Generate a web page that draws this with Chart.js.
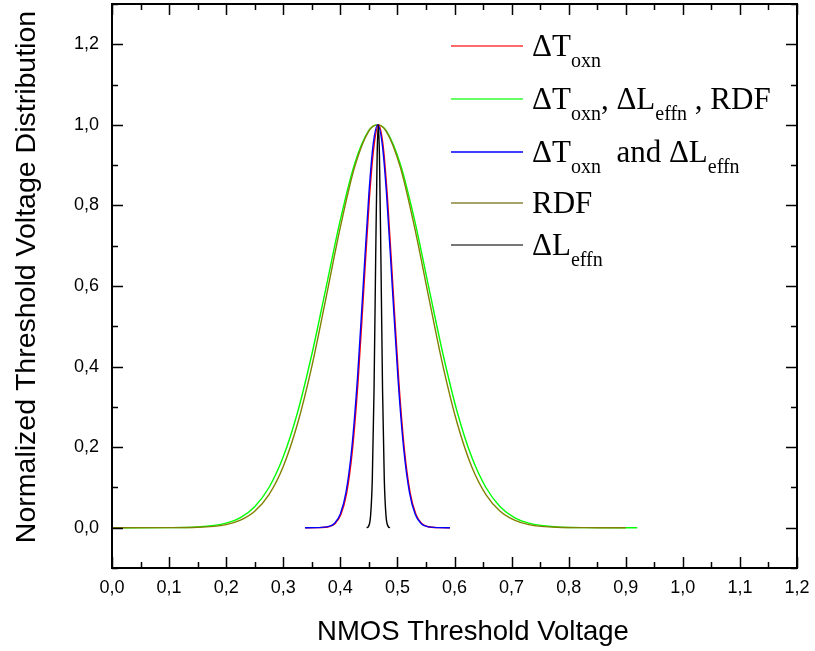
<!DOCTYPE html>
<html>
<head>
<meta charset="utf-8">
<script src="https://cdn.jsdelivr.net/npm/chart.js@4/dist/chart.umd.min.js"></script>
<style>
  html, body { margin: 0; padding: 0; background: #fff; }
  #wrap { position: relative; width: 815px; height: 651px; }
  canvas { position: absolute; left: 0; top: 0; }
  .lg { position: absolute; left: 451px; font-family: "Liberation Serif", "Times New Roman", serif; font-size: 31px; color: #000; white-space: nowrap; line-height: 1; }
  .lg .sw { position: absolute; left: 0; width: 72px; height: 2px; }
  .lg .tx { position: absolute; left: 81px; top: -16px; }
  .lg sub { font-size: 20px; vertical-align: -11px; line-height: 0; }
</style>
</head>
<body>
<div id="wrap">
  <canvas id="c" width="815" height="651"></canvas>
  <div id="legend"></div>
</div>
<script>
// ---- data ----
const xTickValues = [0, 0.1, 0.2, 0.3, 0.4, 0.5, 0.6, 0.7, 0.8, 0.9, 1.0, 1.1, 1.2];
const xTickLabels = ['0,0','0,1','0,2','0,3','0,4','0,5','0,6','0,7','0,8','0,9','1,0','1,1','1,2'];
const xMinorTicks = [0.05, 0.15, 0.25, 0.35, 0.45, 0.55, 0.65, 0.75, 0.85, 0.95, 1.05, 1.15];
const yTickValues = [0, 0.2, 0.4, 0.6, 0.8, 1.0, 1.2];
const yTickLabels = ['0,0','0,2','0,4','0,6','0,8','1,0','1,2'];
const yMinorTicks = [-0.1, 0.1, 0.3, 0.5, 0.7, 0.9, 1.1, 1.3];

const xTitle = 'NMOS Threshold Voltage';
const yTitle = 'Normalized Threshold Voltage Distribution';
const seriesNames = ['ΔToxn', 'ΔToxn, ΔLeffn , RDF', 'ΔToxn and ΔLeffn', 'RDF', 'ΔLeffn'];

// all three sources (green)
const allX = [0.02, 0.10, 0.15, 0.20, 0.225, 0.25, 0.275, 0.30, 0.325, 0.35, 0.375, 0.40, 0.425, 0.45, 0.465, 0.48, 0.505, 0.53, 0.555, 0.58, 0.605, 0.63, 0.655, 0.68, 0.705, 0.73, 0.78, 0.83, 0.92];
const allY = [0.000, 0.0002, 0.0018, 0.0113, 0.0253, 0.0523, 0.0998, 0.176, 0.286, 0.430, 0.596, 0.764, 0.903, 0.986, 1.000, 0.986, 0.903, 0.764, 0.596, 0.430, 0.286, 0.176, 0.0998, 0.0523, 0.0253, 0.0113, 0.0018, 0.0002, 0.000];

// RDF (olive)
const rdfX = [0.00, 0.10, 0.15, 0.20, 0.225, 0.25, 0.275, 0.30, 0.325, 0.35, 0.375, 0.40, 0.425, 0.45, 0.465, 0.48, 0.505, 0.53, 0.555, 0.58, 0.605, 0.63, 0.655, 0.68, 0.705, 0.73, 0.78, 0.83, 0.90];
const rdfY = [0.000, 0.0001, 0.0010, 0.0078, 0.0186, 0.0408, 0.0822, 0.152, 0.258, 0.400, 0.571, 0.746, 0.895, 0.985, 1.000, 0.985, 0.895, 0.746, 0.571, 0.400, 0.258, 0.152, 0.0822, 0.0408, 0.0186, 0.0078, 0.0010, 0.0001, 0.000];

// ΔTox and ΔLeff (blue)
const toxLeffX = [0.338, 0.36, 0.38, 0.39, 0.40, 0.41, 0.42, 0.43, 0.44, 0.45, 0.4575, 0.4655, 0.4735, 0.481, 0.491, 0.501, 0.511, 0.521, 0.531, 0.541, 0.551, 0.571, 0.592];
const toxLeffY = [0.000, 0.0002, 0.0032, 0.0112, 0.0341, 0.0885, 0.196, 0.371, 0.599, 0.828, 0.951, 1.000, 0.951, 0.828, 0.599, 0.371, 0.196, 0.0885, 0.0341, 0.0112, 0.0032, 0.0002, 0.000];

// ΔTox only (red)
const toxX = [0.339, 0.361, 0.381, 0.391, 0.401, 0.411, 0.421, 0.431, 0.441, 0.451, 0.459, 0.467, 0.475, 0.4825, 0.4925, 0.5025, 0.5125, 0.5225, 0.5325, 0.5425, 0.5525, 0.572, 0.592];
const toxY = [0.000, 0.0002, 0.0030, 0.0105, 0.0325, 0.0850, 0.190, 0.362, 0.590, 0.820, 0.948, 1.000, 0.948, 0.820, 0.590, 0.362, 0.190, 0.0850, 0.0325, 0.0105, 0.0030, 0.0002, 0.000];

// ΔLeff only (black)
const leffX = [0.446, 0.449, 0.453, 0.456, 0.459, 0.462, 0.4645, 0.4665, 0.4685, 0.471, 0.474, 0.477, 0.480, 0.484, 0.487];
const leffY = [0.000, 0.0028, 0.030, 0.120, 0.339, 0.678, 0.926, 1.000, 0.926, 0.678, 0.339, 0.120, 0.030, 0.0028, 0.000];

const lineColors = ['#ff0000', '#00ff00', '#0000ff', '#808000', '#000000'];
const swatchColors = ['#ff6a6a', '#66ff66', '#4040ff', '#a8a468', '#777777'];

function pts(xs, ys) { return xs.map((x, i) => ({ x: x, y: ys[i] })); }

const frameAndTicks = {
  id: 'frameAndTicks',
  afterDatasetsDraw(chart) {
    const { ctx, chartArea: a, scales: { x, y } } = chart;
    ctx.save();
    ctx.strokeStyle = '#000';
    ctx.lineWidth = 1.5;
    const major = 11, minor = 6;
    ctx.beginPath();
    xTickValues.forEach(v => { const p = Math.round(x.getPixelForValue(v)) + 0.5;
      ctx.moveTo(p, a.bottom); ctx.lineTo(p, a.bottom - major);
      ctx.moveTo(p, a.top); ctx.lineTo(p, a.top + major); });
    xMinorTicks.forEach(v => { const p = Math.round(x.getPixelForValue(v)) + 0.5;
      ctx.moveTo(p, a.bottom); ctx.lineTo(p, a.bottom - minor);
      ctx.moveTo(p, a.top); ctx.lineTo(p, a.top + minor); });
    yTickValues.forEach(v => { const p = Math.round(y.getPixelForValue(v)) + 0.5;
      ctx.moveTo(a.left, p); ctx.lineTo(a.left + major, p);
      ctx.moveTo(a.right, p); ctx.lineTo(a.right - major, p); });
    yMinorTicks.forEach(v => { const p = Math.round(y.getPixelForValue(v)) + 0.5;
      ctx.moveTo(a.left, p); ctx.lineTo(a.left + minor, p);
      ctx.moveTo(a.right, p); ctx.lineTo(a.right - minor, p); });
    ctx.stroke();
    ctx.lineWidth = 2;
    ctx.strokeRect(a.left, a.top, a.right - a.left, a.bottom - a.top);

    // axis titles
    ctx.fillStyle = '#000';
    ctx.textAlign = 'center';
    ctx.textBaseline = 'middle';
    ctx.font = '27.5px "Liberation Sans", Arial, sans-serif';
    ctx.fillText(xTitle, 473, 632);
    ctx.translate(27, 277);
    ctx.rotate(-Math.PI / 2);
    ctx.font = '28.5px "Liberation Sans", Arial, sans-serif';
    ctx.fillText(yTitle, 0, 0);
    ctx.restore();
  }
};

const chart = new Chart(document.getElementById('c'), {
  type: 'line',
  data: {
    datasets: [
      { label: seriesNames[4], data: pts(leffX, leffY), borderColor: lineColors[4], order: 1 },
      { label: seriesNames[2], data: pts(toxLeffX, toxLeffY), borderColor: lineColors[2], order: 2 },
      { label: seriesNames[0], data: pts(toxX, toxY), borderColor: lineColors[0], order: 3 },
      { label: seriesNames[3], data: pts(rdfX, rdfY), borderColor: lineColors[3], order: 4 },
      { label: seriesNames[1], data: pts(allX, allY), borderColor: lineColors[1], order: 5 }
    ]
  },
  options: {
    responsive: false,
    animation: false,
    layout: { padding: { top: 4, right: 18, left: 0, bottom: 0 } },
    elements: {
      line: { borderWidth: 1.4, cubicInterpolationMode: 'monotone', fill: false },
      point: { radius: 0 }
    },
    plugins: { legend: { display: false }, tooltip: { enabled: false } },
    scales: {
      x: {
        type: 'linear', min: 0, max: 1.2,
        afterBuildTicks: s => { s.ticks = xTickValues.map(v => ({ value: v })); },
        afterFit: s => { s.height = 83; s.paddingLeft = 0; s.paddingRight = 0; },
        grid: { display: false, drawTicks: false },
        border: { display: false },
        ticks: { padding: 9, color: '#000', font: { family: 'Liberation Sans, Arial, sans-serif', size: 18 },
                 callback: (v, i) => xTickLabels[i], maxRotation: 0, autoSkip: false },
        title: { display: false }
      },
      y: {
        type: 'linear', min: -0.1, max: 1.3,
        afterBuildTicks: s => { s.ticks = yTickValues.map(v => ({ value: v })); },
        afterFit: s => { s.width = 112; s.paddingTop = 0; s.paddingBottom = 0; },
        grid: { display: false, drawTicks: false },
        border: { display: false },
        ticks: { padding: 13, color: '#000', font: { family: 'Liberation Sans, Arial, sans-serif', size: 18 },
                 callback: (v, i) => yTickLabels[i], autoSkip: false },
        title: { display: false }
      }
    }
  },
  plugins: [frameAndTicks]
});

// legend (HTML, with subscripts)
const legendRows = [
  { html: 'ΔT<sub>oxn</sub>', color: swatchColors[0], y: 46 },
  { html: 'ΔT<sub>oxn</sub>, ΔL<sub>effn</sub> , RDF', color: swatchColors[1], y: 99 },
  { html: 'ΔT<sub>oxn</sub>&nbsp; and ΔL<sub>effn</sub>', color: swatchColors[2], y: 152 },
  { html: 'RDF', color: swatchColors[3], y: 203 },
  { html: 'ΔL<sub>effn</sub>', color: swatchColors[4], y: 245 }
];
const lg = document.getElementById('legend');
legendRows.forEach(r => {
  const d = document.createElement('div');
  d.className = 'lg';
  d.style.top = r.y + 'px';
  d.innerHTML = '<div class="sw" style="background:' + r.color + ';top:-1px"></div><div class="tx">' + r.html + '</div>';
  lg.appendChild(d);
});
</script>
</body>
</html>
